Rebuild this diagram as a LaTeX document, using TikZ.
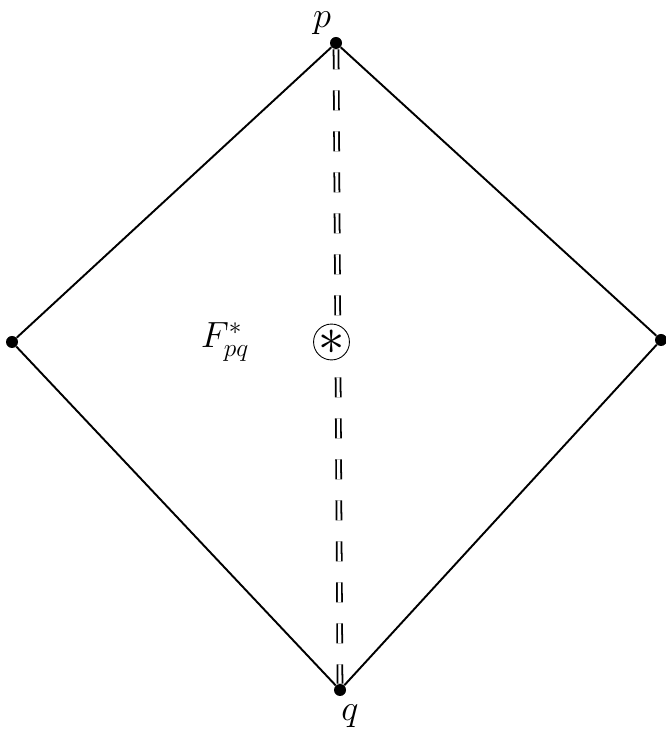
\documentclass[tikz,border=0pt]{standalone}
\begin{document}
\begin{tikzpicture}[x=1cm,y=1cm,
  dot/.style={circle, fill, inner sep=0pt, minimum size=0.24cm},
  star/.style={circle, draw, fill=white, line width=0.5pt, inner sep=0pt, minimum size=0.68cm},
  lbl/.style={font=\fontsize{20}{24}\selectfont, inner sep=1pt}]
\useasboundingbox (0,0) rectangle (13.3,14.62);
\node[dot] (p) at (6.72,13.76) {};
\node[dot] (q) at (6.80,0.82) {};
\node[dot] (l) at (0.24,7.78) {};
\node[dot] (r) at (13.22,7.82) {};
\node[lbl] (pl) at (6.44,14.16) {$p$};
\node[lbl] (ql) at (7.00,0.30) {$q$};
\node[lbl] (f) at (4.50,7.78) {$F^*_{pq}$};
\draw[line width=1.1pt] (p) -- (l);
\draw[line width=1.1pt] (l) -- (q);
\draw[line width=1.1pt] (q) -- (r);
\draw[line width=1.1pt] (r) -- (p);
\draw[double, double distance=1.8pt, line width=1pt, dash pattern=on 0.4cm off 0.42cm] (p) -- (q);
\node[star] (c) at (6.63,7.78) {\scalebox{3}{$\ast$}};
\end{tikzpicture}
\end{document}
